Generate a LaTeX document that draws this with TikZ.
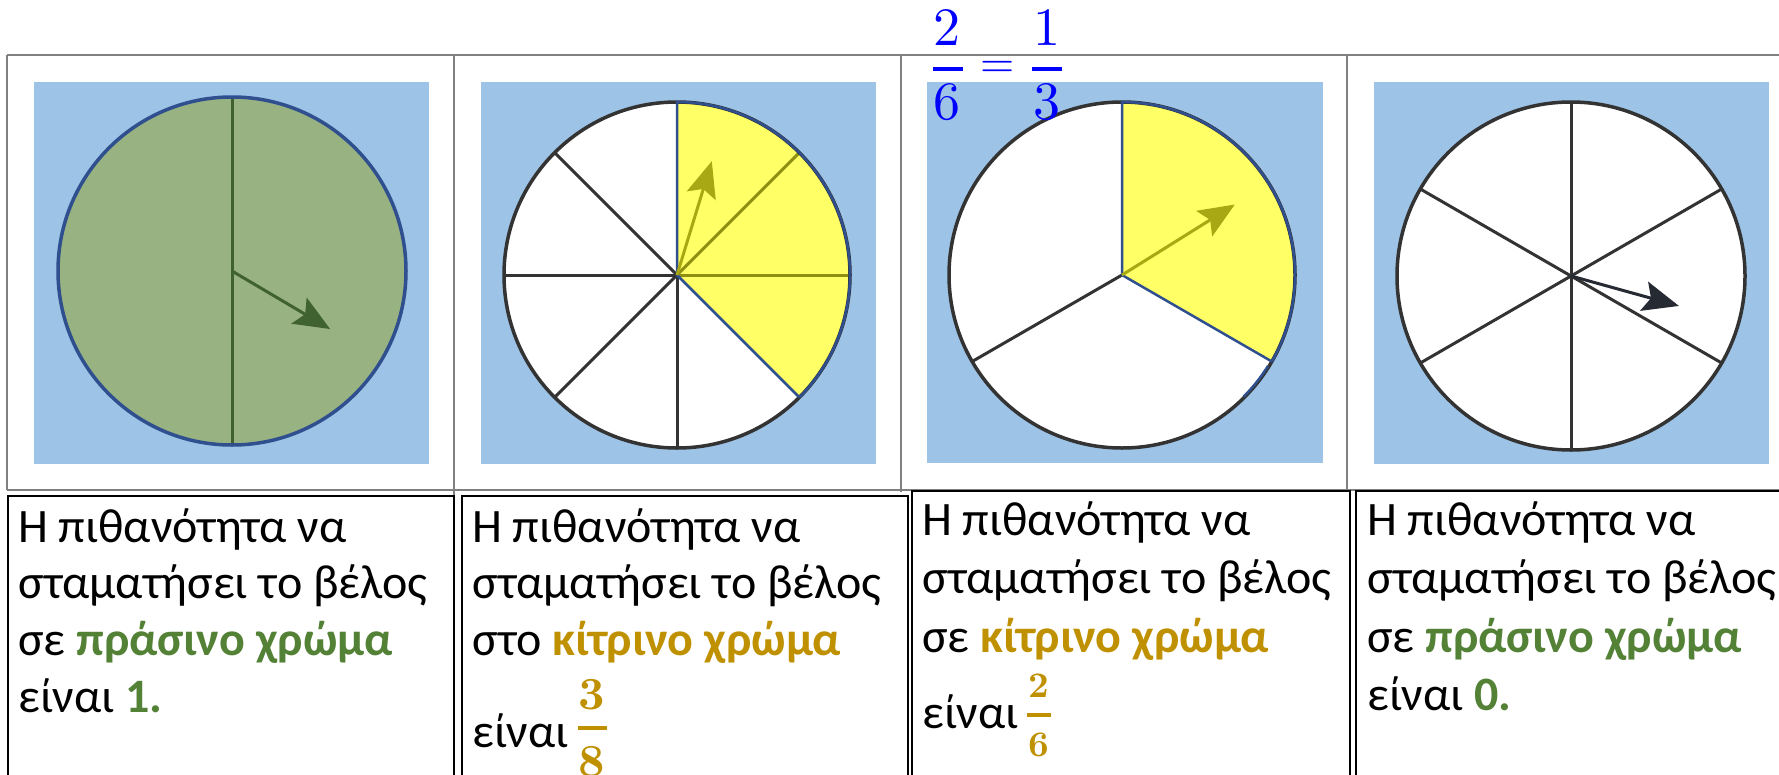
\documentclass[tikz,border=0pt]{standalone}
\usepackage[no-math]{fontspec}
\setmainfont{Carlito}
\newfontfamily\lmr{lmroman10-regular.otf}[BoldFont=lmroman10-bold.otf]
\usetikzlibrary{arrows.meta}
\definecolor{bgblue}{HTML}{9DC3E6}
\definecolor{pgreen}{HTML}{98B381}
\definecolor{dgreen}{HTML}{3F6230}
\definecolor{rimblue}{HTML}{2F4F8F}
\definecolor{pyellow}{HTML}{FFFF66}
\definecolor{polive}{HTML}{A8A814}
\definecolor{pline}{HTML}{333333}
\definecolor{pdark}{HTML}{262A33}
\definecolor{txtgreen}{HTML}{538135}
\definecolor{txtgold}{HTML}{BF9000}
\definecolor{tgray}{HTML}{808080}
\definecolor{fblue}{HTML}{0000FF}
\begin{document}
\begin{tikzpicture}[x=1pt,y=-1pt,
  bg/.style={fill=bgblue},
  rim/.style={line width=3.5pt},
  spoke/.style={line width=3pt, draw=pline},
  pointer/.style={line width=3pt, -{Stealth[length=36pt,width=30pt,inset=7pt]}},
  txt/.style={anchor=base west, inner sep=0pt, font=\fontsize{48}{57}\selectfont},
  bigdig/.style={inner sep=0pt, anchor=center, text=fblue, font=\lmr\fontsize{54}{60}\selectfont},
  golddig/.style={inner sep=0pt, anchor=center, text=txtgold, font=\lmr\bfseries\fontsize{46}{50}\selectfont},
  smalldig/.style={inner sep=0pt, anchor=center, text=txtgold, font=\lmr\bfseries\fontsize{36}{40}\selectfont},
  cell/.style={draw=tgray, line width=2pt},
  tbox/.style={draw=black, line width=2pt}]

\useasboundingbox (0,0) rectangle (1779,774);
\clip (0,0) rectangle (1779,774);

% ---------- top table ----------
\draw[cell] (7,55) -- (1800,55);
\draw[cell] (7,490) -- (1800,490);
\draw[cell] (7,55) -- (7,490);
\draw[cell] (454,55) -- (454,496);
\draw[cell] (901,55) -- (901,492);
\draw[cell] (1347,55) -- (1347,491);

% blue backgrounds
\fill[bg] (34,82) rectangle (429,464);
\fill[bg] (481,82) rectangle (876,464);
\fill[bg] (927,82) rectangle (1323,463);
\fill[bg] (1374,82) rectangle (1769,464);

% ---------- pie 1 ----------
\coordinate (c1) at (232,271);
\fill[pgreen] (c1) circle[radius=174pt];
\draw[dgreen, line width=3pt] (c1) ++(90:174pt) -- ++(270:348pt);
\draw[rimblue, rim] (c1) circle[radius=174pt];
\draw[pointer, dgreen] (c1) -- ++(-30.6:114pt);

% ---------- pie 2 ----------
\coordinate (c2) at (677,275);
\fill[white] (c2) circle[radius=173pt];
\fill[pyellow] (c2) -- ++(90:173pt) arc[start angle=90,end angle=-45,radius=173pt] -- cycle;
\foreach \a in {135,180,225,270} \draw[spoke] (c2) -- ++(\a:173pt);
\foreach \a in {45,0} \draw[spoke, draw=polive!85!black] (c2) -- ++(\a:173pt);
\draw[pline, rim] (c2) circle[radius=173pt];
\draw[rimblue, line width=2.5pt] (c2) ++(-45:173pt) -- (c2) -- ++(90:173pt) arc[start angle=90,end angle=-45,radius=173pt];
\draw[pointer, polive] (c2) -- ++(73:119pt);

% ---------- pie 3 ----------
\coordinate (c3) at (1122,275);
\fill[white] (c3) circle[radius=173pt];
\fill[pyellow] (c3) -- ++(90:173pt) arc[start angle=90,end angle=-30,radius=173pt] -- cycle;
\draw[spoke] (c3) -- ++(210:173pt);
\draw[pline, rim] (c3) circle[radius=173pt];
\draw[rimblue, line width=2.5pt] (c3) ++(-30:173pt) -- (c3) -- ++(90:173pt) arc[start angle=90,end angle=-30,radius=173pt];
\draw[rimblue, line width=2.5pt] (c3) ++(-32:172pt) arc[start angle=-32,end angle=-45,radius=172pt];
\draw[pointer, polive] (c3) -- ++(32:133pt);

% ---------- pie 4 ----------
\coordinate (c4) at (1571,276);
\fill[white] (c4) circle[radius=174pt];
\foreach \a in {30,90,150,210,270,330} \draw[spoke] (c4) -- ++(\a:174pt);
\draw[pline, rim] (c4) circle[radius=174pt];
\draw[pointer, pdark] (c4) -- ++(-15.5:112pt);

% ---------- fraction above pie 3 ----------
\node[bigdig] (fn1) at (947,28) {2};
\draw[fblue, line width=4.5pt] (933,69) -- (963,69);
\node[bigdig] (fd1) at (947,102) {6};
\node[bigdig, font=\lmr\fontsize{44}{50}\selectfont] (feq) at (998,69) {=};
\node[bigdig] (fn2) at (1047,28) {1};
\draw[fblue, line width=4.5pt] (1032,69) -- (1062,69);
\node[bigdig] (fd2) at (1047,102) {3};

% ---------- bottom boxes ----------
\draw[tbox] (8,496) rectangle (454,800);
\draw[tbox] (462,496) rectangle (908,800);
\draw[tbox] (912,491) rectangle (1350,800);
\draw[tbox] (1356,491) rectangle (1800,800);

% box 1
\node[txt] (a1) at (18,542) {Η πιθανότητα να};
\node[txt] (a2) at (18,598) {σταματήσει το βέλος};
\node[txt] (a3) at (18,655) {σε \textcolor{txtgreen}{\bfseries πράσινο χρώμα}};
\node[txt] (a4) at (18,712) {είναι \textcolor{txtgreen}{\bfseries 1.}};

% box 2
\node[txt] (b1) at (472,542) {Η πιθανότητα να};
\node[txt] (b2) at (472,598) {σταματήσει το βέλος};
\node[txt] (b3) at (472,655) {στο \textcolor{txtgold}{\bfseries κίτρινο χρώμα}};
\node[txt] (b4) at (472,747) {είναι};
\node[golddig] (bn) at (592,695) {3};
\draw[txtgold, line width=4.5pt] (578,728) -- (607,728);
\node[golddig] (bd) at (592,762) {8};

% box 3
\node[txt] (c1t) at (922,535) {Η πιθανότητα να};
\node[txt] (c2t) at (922,593) {σταματήσει το βέλος};
\node[txt] (c3t) at (922,652) {σε \textcolor{txtgold}{\bfseries κίτρινο χρώμα}};
\node[txt] (c4t) at (922,728) {είναι};
\node[smalldig] (cn) at (1039,686) {2};
\draw[txtgold, line width=4pt] (1027,715) -- (1051,715);
\node[smalldig] (cd) at (1039,745) {6};

% box 4
\node[txt] (d1) at (1367,535) {Η πιθανότητα να};
\node[txt] (d2) at (1367,593) {σταματήσει το βέλος};
\node[txt] (d3) at (1367,652) {σε \textcolor{txtgreen}{\bfseries πράσινο χρώμα}};
\node[txt] (d4) at (1367,710) {είναι \textcolor{txtgreen}{\bfseries 0.}};
\end{tikzpicture}
\end{document}
